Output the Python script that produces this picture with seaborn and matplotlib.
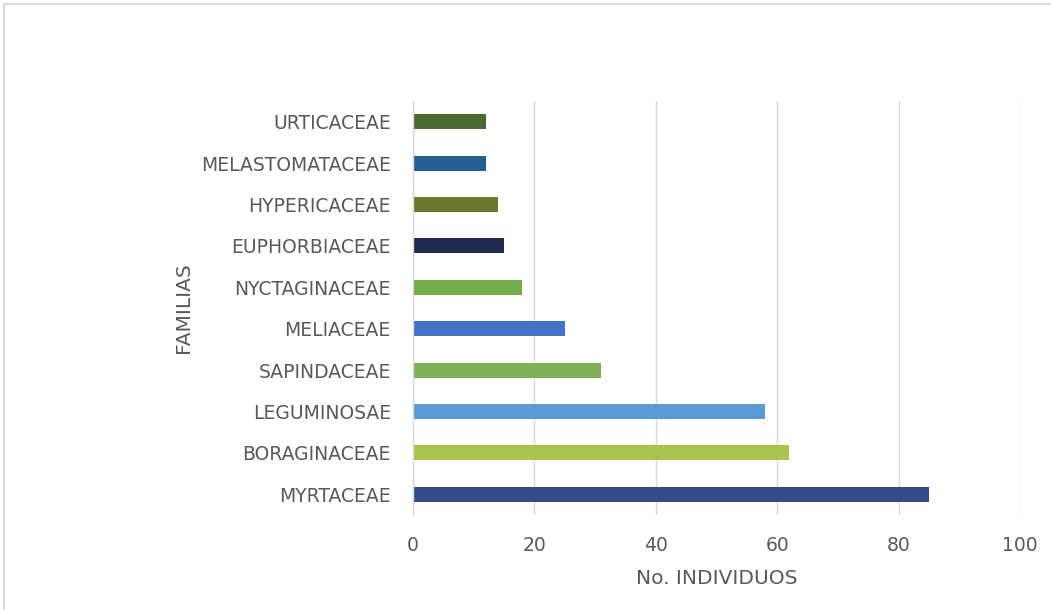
import matplotlib
matplotlib.use("Agg")
import matplotlib.pyplot as plt
import matplotlib.patches as mpatches
import seaborn as sns
import pandas as pd

# Families and number of individuals recorded for each
familias = ["URTICACEAE", "MELASTOMATACEAE", "HYPERICACEAE", "EUPHORBIACEAE",
            "NYCTAGINACEAE", "MELIACEAE", "SAPINDACEAE", "LEGUMINOSAE",
            "BORAGINACEAE", "MYRTACEAE"]
individuos = [12, 12, 14, 15, 18, 25, 31, 58, 62, 85]
colores = ["#4A6A31", "#255F93", "#677929", "#1F2A50", "#70AD47",
           "#4472C4", "#7DB057", "#5B9BD5", "#A8C34E", "#354B87"]
x_ticks = [0, 20, 40, 60, 80, 100]

df = pd.DataFrame({"familia": familias, "n": individuos})

sns.set_theme(style="white")
plt.rcParams["font.family"] = ["DejaVu Sans"]

fig = plt.figure(figsize=(10.51, 6.10), dpi=100)
ax = fig.add_axes([413 / 1051, 1 - 515 / 610, (1020 - 413) / 1051, (515 - 101) / 610])

sns.barplot(data=df, y="familia", x="n", hue="familia", palette=colores,
            order=familias, orient="h", width=0.36, legend=False, ax=ax,
            saturation=1, edgecolor="none")

ax.set_xlim(0, 100)
ax.set_xticks(x_ticks)
ax.set_xticklabels([str(t) for t in x_ticks])
ax.grid(axis="x", color="#D9D9D9", linewidth=1)
ax.set_axisbelow(True)
for side in ["top", "right", "bottom"]:
    ax.spines[side].set_visible(False)
ax.spines["left"].set_color("#D9D9D9")
ax.spines["left"].set_linewidth(1)
ax.tick_params(axis="both", length=0, colors="#595959", labelsize=13.5)
ax.tick_params(axis="y", pad=16)
ax.tick_params(axis="x", pad=15)

ax.set_xlabel("No. INDIVIDUOS", fontsize=14.5, color="#595959", labelpad=10)
ax.set_ylabel("FAMILIAS", fontsize=14.5, color="#595959", labelpad=6)

# Chart area border
fig.patches.append(mpatches.Rectangle((4 / 1051, -0.05), 1.1, 1 - 4 / 610 + 0.05,
                                      transform=fig.transFigure, fill=False,
                                      edgecolor="#D9D9D9", linewidth=1.5))

fig.savefig("out.png", dpi=100)
